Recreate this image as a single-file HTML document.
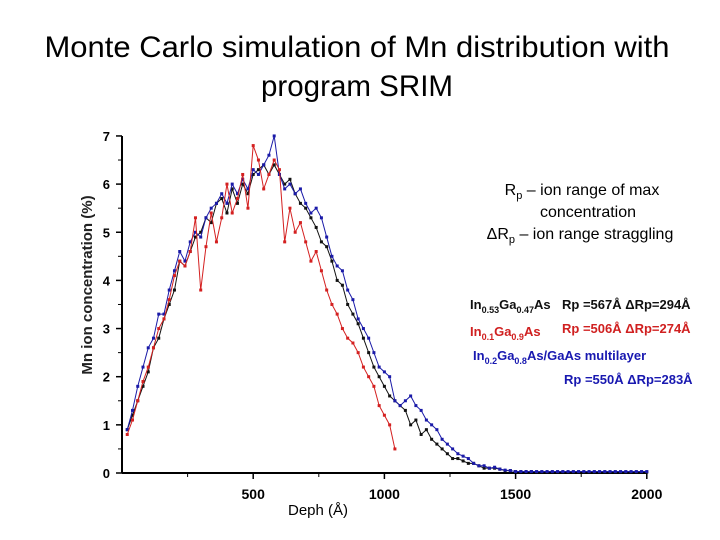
<!DOCTYPE html>
<html><head><meta charset="utf-8"><style>
body{margin:0;background:#fff;width:720px;height:540px;overflow:hidden;font-family:"Liberation Sans",sans-serif}
</style></head><body>
<svg width="720" height="540" style="position:absolute;left:0;top:0">
<text x="357" y="57" text-anchor="middle" font-size="30" textLength="625" lengthAdjust="spacingAndGlyphs">Monte Carlo simulation of Mn distribution with</text>
<text x="357" y="96" text-anchor="middle" font-size="30" textLength="192" lengthAdjust="spacingAndGlyphs">program SRIM</text>
<g id="axes"></g>
<g id="series"></g>
<text transform="translate(92,285) rotate(-90)" text-anchor="middle" font-size="15" font-weight="bold" fill="#222">Mn ion concentration (%)</text>
<text x="318" y="515" text-anchor="middle" font-size="15">Deph (Å)</text>
<g font-size="16">
<text x="582" y="195" text-anchor="middle">R<tspan font-size="11" dy="4">p</tspan><tspan dy="-4">  – ion range  of max</tspan></text>
<text x="588" y="217" text-anchor="middle">concentration</text>
<text x="580" y="239" text-anchor="middle">ΔR<tspan font-size="11" dy="4">p</tspan><tspan dy="-4"> – ion range straggling</tspan></text>
</g>
<g font-size="13" font-weight="bold">
<text x="470" y="309" fill="#111">In<tspan font-size="9" dy="4">0.53</tspan><tspan dy="-4">Ga</tspan><tspan font-size="9" dy="4">0.47</tspan><tspan dy="-4">As</tspan></text>
<text x="562" y="309" fill="#111">Rp =567Å ΔRp=294Å</text>
<text x="470" y="336" fill="#d02020">In<tspan font-size="9" dy="4">0.1</tspan><tspan dy="-4">Ga</tspan><tspan font-size="9" dy="4">0.9</tspan><tspan dy="-4">As</tspan></text>
<text x="562" y="333" fill="#d02020">Rp =506Å ΔRp=274Å</text>
<text x="473" y="360" fill="#1818b0">In<tspan font-size="9" dy="4">0.2</tspan><tspan dy="-4">Ga</tspan><tspan font-size="9" dy="4">0.8</tspan><tspan dy="-4">As/GaAs multilayer</tspan></text>
<text x="564" y="384" fill="#1818b0">Rp =550Å ΔRp=283Å</text>
</g>
</svg>
<script>
const xTicks=[500,1000,1500,2000];
const yTicks=[0,1,2,3,4,5,6,7];
const xStep=20;
const blackVals=[0.9,1.2,1.5,1.8,2.1,2.6,2.8,3.2,3.5,3.8,4.4,4.3,4.6,4.9,5.0,5.3,5.2,5.6,5.7,5.4,5.9,5.6,6.0,5.8,6.2,6.3,6.4,6.2,6.4,6.2,6.0,6.1,5.8,5.6,5.5,5.3,5.1,4.8,4.7,4.4,4.0,3.9,3.5,3.3,3.1,2.8,2.5,2.2,2.0,1.8,1.6,1.5,1.4,1.3,1.0,1.1,0.8,0.9,0.7,0.6,0.5,0.4,0.3,0.3,0.25,0.2,0.2,0.15,0.1,0.1,0.1,0.08,0.05,0.05,0.03,0.03,0.03,0.03,0.02,0.02,0.02,0.02,0.02,0.02,0.02,0.02,0.02,0.02,0.02,0.02,0.02,0.02,0.02,0.02,0.02,0.02,0.02,0.02,0.02,0.02];
const redVals=[0.8,1.1,1.5,1.9,2.2,2.6,3.0,3.2,3.6,4.1,4.4,4.3,4.6,5.3,3.8,4.7,5.4,4.8,5.3,6.0,5.4,5.7,6.2,5.5,6.8,6.5,5.9,6.2,6.5,6.3,4.8,5.5,5.0,5.2,4.8,4.4,4.6,4.2,3.8,3.5,3.3,3.0,2.8,2.7,2.5,2.2,2.0,1.8,1.4,1.2,1.0,0.5];
const blueVals=[0.9,1.3,1.8,2.2,2.6,2.8,3.3,3.3,3.8,4.2,4.6,4.4,4.8,5.0,4.9,5.3,5.5,5.6,5.8,5.6,6.0,5.8,6.1,5.9,6.3,6.2,6.4,6.6,7.0,6.2,5.9,6.0,5.8,5.9,5.6,5.4,5.5,5.3,4.9,4.5,4.3,4.2,3.8,3.6,3.2,3.0,2.8,2.5,2.2,2.1,2.0,1.5,1.4,1.5,1.6,1.4,1.3,1.1,1.0,0.9,0.7,0.6,0.5,0.4,0.35,0.3,0.2,0.15,0.15,0.1,0.12,0.08,0.06,0.05,0.03,0.03,0.03,0.03,0.03,0.03,0.03,0.03,0.03,0.03,0.03,0.03,0.03,0.03,0.03,0.03,0.03,0.03,0.03,0.03,0.03,0.03,0.03,0.03,0.03,0.03];
const NS="http://www.w3.org/2000/svg";
const X=v=>122+v*0.2624, Y=v=>473-v*48.15;
function mk(tag,attrs,parent){const e=document.createElementNS(NS,tag);for(const k in attrs)e.setAttribute(k,attrs[k]);parent.appendChild(e);return e;}
const ax=document.getElementById('axes');
let yl=mk('line',{x1:122,y1:Y(7),x2:122,y2:473,stroke:'#000','stroke-width':2},ax);


let xl=mk('line',{x1:122,y1:473,x2:X(2000),y2:473,stroke:'#000','stroke-width':2},ax);


yTicks.forEach(t=>{
 mk('line',{x1:116,y1:Y(t),x2:122,y2:Y(t),stroke:'#000','stroke-width':1.5},ax);
 if(t<7)mk('line',{x1:118,y1:Y(t+0.5),x2:122,y2:Y(t+0.5),stroke:'#000'},ax);
 const tx=mk('text',{x:110,y:Y(t)+5,'text-anchor':'end','font-size':13,'font-weight':'bold'},ax);tx.textContent=t;
 
 
});
xTicks.forEach(t=>{
 mk('line',{x1:X(t),y1:473,x2:X(t),y2:479,stroke:'#000','stroke-width':1.5},ax);
 mk('line',{x1:X(t-250),y1:473,x2:X(t-250),y2:477,stroke:'#000'},ax);
 const tx=mk('text',{x:X(t),y:499,'text-anchor':'middle','font-size':14,'font-weight':'bold'},ax);tx.textContent=t;
 
 
});
const sg=document.getElementById('series');
[[blackVals,'#111','series-ingaas-053'],[blueVals,'#1a1aa8','series-multilayer'],[redVals,'#d42020','series-ingaas-01']].forEach(([vals,c,name])=>{
 const g=mk('g',{},sg);
 
 
 const pts=vals.map((v,i)=>[X((i+1)*xStep),Y(v)]);
 mk('polyline',{points:pts.map(p=>p.join(',')).join(' '),fill:'none',stroke:c,'stroke-width':1},g);
 pts.forEach(p=>mk('rect',{x:p[0]-1.5,y:p[1]-1.5,width:3,height:3,fill:c},g));
});
</script>
</body></html>
